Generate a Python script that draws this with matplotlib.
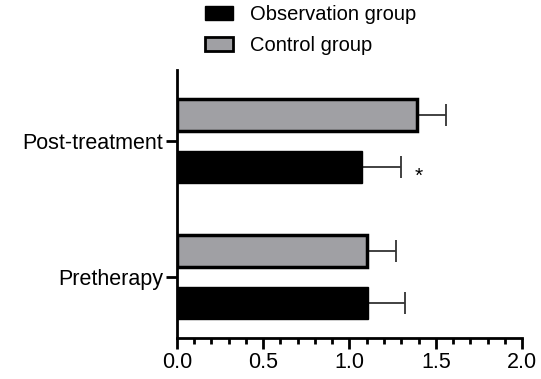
import matplotlib.pyplot as plt
from matplotlib.patches import Patch
from matplotlib.ticker import MultipleLocator

plt.rcParams['font.family'] = ['Liberation Sans', 'DejaVu Sans']

categories = ['Pretherapy', 'Post-treatment']
observation = [1.11, 1.07]
observation_err = [0.21, 0.23]
control = [1.10, 1.39]
control_err = [0.17, 0.17]
sig_marks = ['', '*']

fig = plt.figure(figsize=(5.41, 3.79), dpi=100)
ax = fig.add_axes([0.327, 0.108, 0.638, 0.707])

pos = list(range(len(categories)))
off = 0.19
h = 0.235

ax.barh([p + off for p in pos], control, height=h, color='#a0a0a4',
        edgecolor='black', linewidth=2.5, zorder=2)
ax.barh([p - off for p in pos], observation, height=h, color='black',
        edgecolor='black', linewidth=1, zorder=2)

err_kw = dict(fmt='none', ecolor='#333333', elinewidth=1.3, capsize=8,
              capthick=1.3, zorder=1)
ax.errorbar(control, [p + off for p in pos], xerr=[[0] * len(control), control_err], **err_kw)
ax.errorbar(observation, [p - off for p in pos],
            xerr=[[0] * len(observation), observation_err], **err_kw)

for p, v, e, s in zip(pos, observation, observation_err, sig_marks):
    if s:
        ax.text(v + e + 0.1, p - off - 0.07, s, ha='center', va='center', fontsize=15)

ax.set_xlim(0, 2.0)
ax.set_ylim(-0.45, 1.52)
ax.xaxis.set_major_locator(MultipleLocator(0.5))
ax.xaxis.set_minor_locator(MultipleLocator(0.1))
ax.set_xticks([0, 0.5, 1.0, 1.5, 2.0])
ax.set_xticklabels(['0.0', '0.5', '1.0', '1.5', '2.0'])
ax.set_yticks(pos)
ax.set_yticklabels(categories)

for side in ['top', 'right']:
    ax.spines[side].set_visible(False)
for side in ['left', 'bottom']:
    ax.spines[side].set_linewidth(2)
ax.tick_params(axis='both', which='major', width=2, length=8, labelsize=15.5, pad=2)
ax.tick_params(axis='x', which='minor', width=2, length=4)

handles = [Patch(facecolor='black', edgecolor='black', label='Observation group'),
           Patch(facecolor='#a0a0a4', edgecolor='black', linewidth=2, label='Control group')]
fig.legend(handles=handles, loc='upper left', bbox_to_anchor=(0.345, 1.035), frameon=False,
           fontsize=14.5, handlelength=1.4, handleheight=0.7, labelspacing=0.6,
           handletextpad=0.85)

fig.savefig('out.png', dpi=100)
